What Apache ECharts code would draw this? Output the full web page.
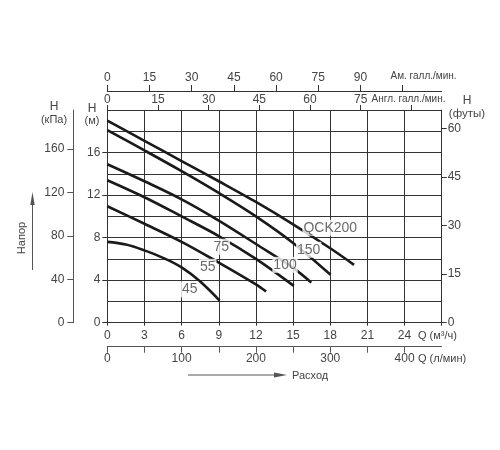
<!DOCTYPE html>
<html>
<head>
<meta charset="utf-8">
<script src="https://cdn.jsdelivr.net/npm/echarts@6/dist/echarts.min.js"></script>
<style>
html,body{margin:0;padding:0;background:#fff;}
#main{width:500px;height:450px;}
</style>
</head>
<body>
<div id="main"></div>
<script>
// ---- data (flow Q in m3/h, head H in m) ----
const curveNames = ['QCK200', '150', '100', '75', '55', '45'];
const curveQCK200 = [[0,19.0],[3,17.1],[6,15.2],[9,13.3],[12,11.35],[15,9.25],[18,7.0],[19.92,5.44]];
const curve150 = [[0,18.1],[3,16.2],[6,14.25],[9,12.2],[12,10.0],[15,7.5],[18.03,4.5]];
const curve100 = [[0,14.9],[3,13.3],[6,11.6],[9,9.6],[12,7.4],[15,5.15],[16.47,3.77]];
const curve75 = [[0,13.4],[3,11.8],[6,10.0],[9,8.15],[12,6.0],[15.06,3.46]];
const curve55 = [[0,10.95],[3,9.3],[6,7.6],[9,5.65],[12,3.6],[12.82,2.93]];
const curve45 = [[0,7.6],[1.5,7.35],[3,6.8],[4.5,6.1],[6,5.2],[7.5,3.87],[9.07,2.08]];
const curveLabels = [[18.0,8.93,'QCK200'],[16.26,6.86,'150'],[14.35,5.44,'100'],[9.2,7.14,'75'],[8.11,5.25,'55'],[6.66,3.13,'45']];

// ---- axis ticks / labels ----
const lpmTicks = [0,50,100,150,200,250,300,350,400];
const lpmLabels = [0,100,200,300,400];
const ukTicks = [0,15,30,45,60,75,90];
const ukLabels = [0,15,30,45,60,75];
const usTicks = [0,15,30,45,60,75,90,105];
const usLabels = [0,15,30,45,60,75,90];
const mTicks = [0,4,8,12,16];
const kpaTicks = [0,40,80,120,160];
const ftTicks = [0,15,30,45,60];

// ---- unit conversions ----
const Q_MAX = 27, H_MAX = 20;
const LPM = 1000/60, UKGPM = 1000/4.54609/60, USGPM = 1000/3.785411784/60;
const KPA = 9.80665, FT = 1/0.3048;

const FONT = '"Liberation Sans", Arial, sans-serif';
const TXT = '#444';
const LINE = '#333';

const lblStyle = (extra) => Object.assign({color: TXT, fontSize: 12, fontFamily: FONT}, extra || {});

const chart = echarts.init(document.getElementById('main'), null, {renderer: 'canvas'});

const curves = [curveQCK200, curve150, curve100, curve75, curve55, curve45];
const series = curves.map((c, i) => ({
  type: 'line', name: curveNames[i], data: c,
  xAxisIndex: 0, yAxisIndex: 0,
  showSymbol: false, smooth: 0.35, silent: true,
  lineStyle: {color: '#1a1a1a', width: 2.6}, z: 3
}));
series.push({
  type: 'scatter', data: curveLabels, xAxisIndex: 0, yAxisIndex: 0,
  symbolSize: 0, silent: true, z: 6,
  label: {show: true, position: 'inside', formatter: p => p.data[2],
    color: TXT, fontSize: 14, fontFamily: FONT, backgroundColor: '#fff', padding: [1, 1]}
});

const txt = (x, y, text, size, align, extra) => Object.assign({
  type: 'text', x: x, y: y, silent: true, z: 10,
  style: {text: text, fill: TXT, font: size + 'px ' + FONT, textAlign: align || 'center', textVerticalAlign: 'middle'}
}, extra || {});

const noLabel = {show: false};

chart.setOption({
  animation: false,
  backgroundColor: '#fff',
  grid: {left: 107.3, top: 110, width: 334.4, height: 212.7},
  xAxis: [
    { // m3/h bottom: grid lines
      type: 'value', position: 'bottom', min: 0, max: Q_MAX, interval: 3,
      axisLine: {onZero: false, lineStyle: {color: LINE, width: 1}},
      axisTick: {show: true, length: 3, lineStyle: {color: LINE}},
      axisLabel: lblStyle({margin: 7, formatter: v => (v < 25 ? String(v) : '')}),
      splitLine: {show: true, lineStyle: {color: LINE, width: 1}}
    },
    { // l/min bottom offset
      type: 'value', position: 'bottom', offset: 24, min: 0, max: Q_MAX * LPM,
      axisLine: {onZero: false, lineStyle: {color: '#555', width: 1}},
      axisTick: {show: true, length: 6, customValues: lpmTicks, lineStyle: {color: '#555'}},
      axisLabel: lblStyle({margin: 6, customValues: lpmLabels}),
      splitLine: {show: false}
    },
    { // UK gpm top
      type: 'value', position: 'top', min: 0, max: Q_MAX * UKGPM,
      axisLine: {onZero: false, lineStyle: {color: LINE, width: 1}},
      axisTick: {show: true, length: 5, customValues: ukTicks, lineStyle: {color: LINE}},
      axisLabel: lblStyle({margin: 4, customValues: ukLabels}),
      splitLine: {show: false}
    },
    { // US gpm top offset
      type: 'value', position: 'top', offset: 19, min: 0, max: Q_MAX * USGPM,
      axisLine: {onZero: false, lineStyle: {color: LINE, width: 1}},
      axisTick: {show: true, length: 6, customValues: usTicks, lineStyle: {color: LINE}},
      axisLabel: lblStyle({margin: 7, customValues: usLabels}),
      splitLine: {show: false}
    }
  ],
  yAxis: [
    { // metres: grid lines every 2 m
      type: 'value', position: 'left', min: 0, max: H_MAX, interval: 2,
      axisLine: {show: true, onZero: false, lineStyle: {color: LINE, width: 1}},
      axisTick: {show: false},
      axisLabel: noLabel,
      splitLine: {show: true, lineStyle: {color: LINE, width: 1}}
    },
    { // kPa
      type: 'value', position: 'left', offset: 34, min: 0, max: H_MAX * KPA,
      axisLine: {show: true, onZero: false, lineStyle: {color: '#555', width: 1}},
      axisTick: {show: true, length: 6, customValues: kpaTicks, lineStyle: {color: '#555'}},
      axisLabel: lblStyle({margin: 9, customValues: kpaTicks}),
      splitLine: {show: false}
    },
    { // feet
      type: 'value', position: 'right', min: 0, max: H_MAX * FT,
      axisLine: {show: true, onZero: false, lineStyle: {color: LINE, width: 1}},
      axisTick: {show: true, length: 5, customValues: ftTicks, lineStyle: {color: LINE}},
      axisLabel: lblStyle({margin: 6, customValues: ftTicks}),
      splitLine: {show: false}
    },
    { // metres: labelled ticks
      type: 'value', position: 'left', min: 0, max: H_MAX,
      axisLine: {show: false, onZero: false},
      axisTick: {show: true, length: 5, customValues: mTicks, lineStyle: {color: LINE}},
      axisLabel: lblStyle({margin: 7, customValues: mTicks}),
      splitLine: {show: false}
    }
  ],
  series: series,
  graphic: [
    txt(54, 107, 'H', 12), txt(54, 119.5, '(кПа)', 11),
    txt(92, 108.5, 'H', 12), txt(92, 120.5, '(м)', 11),
    txt(467, 101, 'H', 12), txt(467, 114, '(футы)', 11.5),
    txt(423.5, 76, 'Ам. галл./мин.', 10),
    txt(408.5, 99.5, 'Англ. галл./мин.', 10),
    txt(418, 336, 'Q (м³/ч)', 11, 'left'),
    txt(418, 359, 'Q (л/мин)', 11, 'left'),
    txt(292, 375.5, 'Расход', 11, 'left'),
    txt(21.5, 238, 'Напор', 11, 'center', {rotation: Math.PI / 2}),
    {type: 'line', silent: true, shape: {x1: 188, y1: 375, x2: 276, y2: 375}, style: {stroke: '#555', lineWidth: 1}},
    {type: 'polygon', silent: true, shape: {points: [[287, 375], [274, 372.5], [274, 377.5]]}, style: {fill: '#555'}},
    {type: 'line', silent: true, shape: {x1: 32.5, y1: 270, x2: 32.5, y2: 202}, style: {stroke: '#555', lineWidth: 1}},
    {type: 'polygon', silent: true, shape: {points: [[32.5, 192], [30.3, 205], [34.7, 205]]}, style: {fill: '#555'}}
  ]
});
</script>
</body>
</html>
